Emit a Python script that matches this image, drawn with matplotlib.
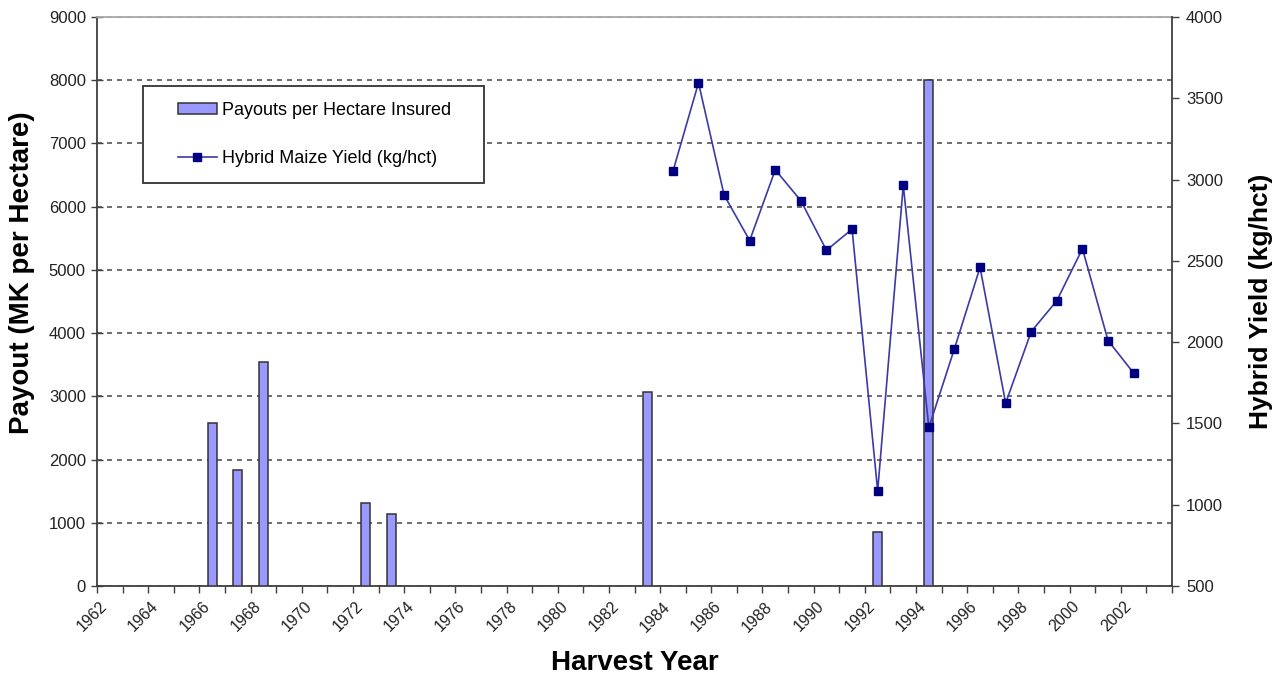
import matplotlib
matplotlib.use('Agg')
import matplotlib.pyplot as plt
import matplotlib.transforms as mtransforms
from matplotlib.patches import Rectangle
import numpy as np

plt.rcParams['font.family'] = ['Liberation Sans', 'DejaVu Sans']

# categories on the x axis, one per harvest year
years = list(range(1962, 2004))
label_years = list(range(1962, 2003, 2))

# payouts per hectare insured (MK), left axis
payout_years = [1966, 1967, 1968, 1972, 1973, 1983, 1992, 1994]
payouts = [2580, 1840, 3540, 1310, 1140, 3070, 860, 8000]

# hybrid maize yield (kg/hct), right axis
yield_years = list(range(1984, 2003))
yields = [3050, 3595, 2905, 2625, 3060, 2870, 2565, 2695, 1085, 2965,
          1475, 1960, 2460, 1625, 2065, 2255, 2575, 2010, 1810]

bar_color = '#9999ff'
edge_color = '#333333'
line_color = '#3a3aa8'
marker_color = '#000080'
axis_color = '#404040'

fig = plt.figure(figsize=(12.83, 6.77), dpi=100)
ax = fig.add_axes([0.0756, 0.1344, 0.8379, 0.8405])

bars = ax.bar(payout_years, payouts, width=0.36, color=bar_color,
              edgecolor=edge_color, linewidth=1.1, zorder=3,
              label='Payouts per Hectare Insured')

ax.set_xlim(years[0] - 0.5, years[-1] + 0.5)
ax.set_ylim(0, 9000)
ax.set_yticks(np.arange(0, 9001, 1000))
ax.tick_params(axis='y', direction='inout', length=8, width=1,
               color=axis_color, labelsize=12, labelcolor='#222222', pad=4)

# tick marks at category boundaries, labels at every second category
ax.set_xticks(np.arange(years[0] - 0.5, years[-1] + 1.0, 1.0))
ax.set_xticklabels([])
ax.tick_params(axis='x', which='major', direction='out', length=5,
               width=1, color=axis_color)
ax.set_xticks(label_years, minor=True)
ax.set_xticklabels([str(y) for y in label_years], minor=True,
                   rotation=45, ha='right', va='center',
                   rotation_mode='anchor', fontsize=11.5, color='#222222')
ax.tick_params(axis='x', which='minor', length=0, pad=13)
shift = mtransforms.ScaledTranslation(-5 / 100, 0, fig.dpi_scale_trans)
for lbl in ax.get_xticklabels(minor=True):
    lbl.set_transform(lbl.get_transform() + shift)

ax.yaxis.grid(True, linestyle=(0, (3, 3)), color='#555555', linewidth=1.2,
              zorder=0)
ax.set_axisbelow(True)

for s in ['left', 'bottom']:
    ax.spines[s].set_color(axis_color)
    ax.spines[s].set_linewidth(1.3)
ax.spines['top'].set_color('#a8a8a8')
ax.spines['top'].set_linewidth(1.3)
ax.spines['right'].set_visible(False)

ax.set_ylabel('Payout (MK per Hectare)', fontsize=20, fontweight='bold')
ax.yaxis.set_label_coords(-0.058, 0.55)
ax.set_xlabel('Harvest Year', fontsize=20, fontweight='bold')
ax.xaxis.set_label_coords(0.5, -0.112)

ax2 = ax.twinx()
line, = ax2.plot(yield_years, yields, color=line_color, linewidth=1.2,
                 marker='s', markersize=6, markerfacecolor=marker_color,
                 markeredgecolor=marker_color, zorder=4,
                 label='Hybrid Maize Yield (kg/hct)')
ax2.set_ylim(500, 4000)
ax2.set_yticks(np.arange(500, 4001, 500))
ax2.tick_params(axis='y', direction='out', length=5, width=1,
                color=axis_color, labelsize=12, labelcolor='#222222', pad=5)
for s in ['left', 'bottom', 'top']:
    ax2.spines[s].set_visible(False)
ax2.spines['right'].set_color(axis_color)
ax2.spines['right'].set_linewidth(1.3)
ax2.set_ylabel('Hybrid Yield (kg/hct)', fontsize=19, fontweight='bold')
ax2.yaxis.set_label_coords(1.072, 0.5)

# legend frame drawn separately so it can be wider than its entries
frame = Rectangle((0.043, 0.708), 0.317, 0.171, transform=ax2.transAxes,
                  facecolor='white', edgecolor='#333333', linewidth=1.3,
                  zorder=5)
ax2.add_patch(frame)
leg = ax2.legend([bars, line],
                 ['Payouts per Hectare Insured', 'Hybrid Maize Yield (kg/hct)'],
                 loc='center left', bbox_to_anchor=(0.075, 0.7935),
                 fontsize=13, frameon=False, labelspacing=1.75,
                 handlelength=2.2, handleheight=0.6, handletextpad=0.25,
                 borderpad=0, borderaxespad=0)
leg.set_zorder(6)

fig.savefig('out.png', dpi=100)
